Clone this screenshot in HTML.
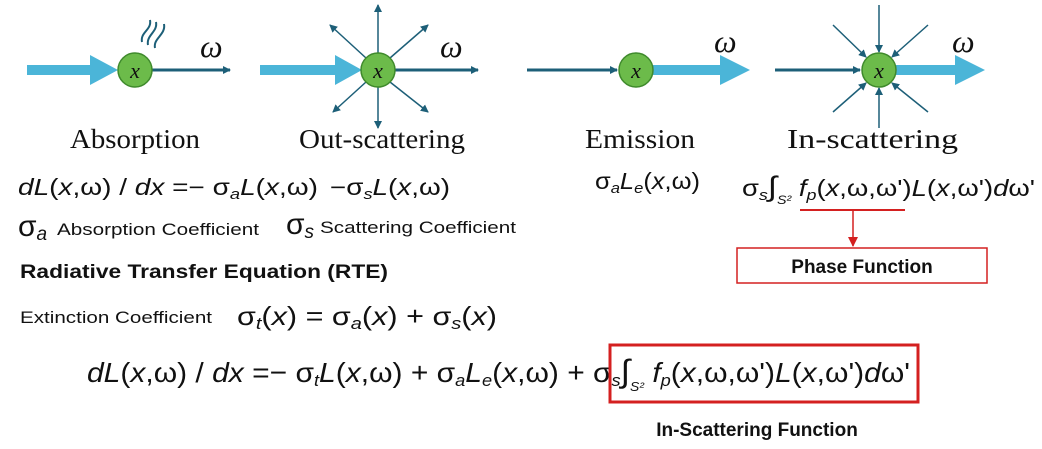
<!DOCTYPE html>
<html><head><meta charset="utf-8"><style>
html,body{margin:0;padding:0;background:#fff;width:1042px;height:449px;overflow:hidden}
svg text{font-family:"Liberation Sans",sans-serif;fill:#111}
.serif{font-family:"Liberation Serif",serif}
.it{font-style:italic}
</style></head><body>
<svg width="1042" height="449" viewBox="0 0 1042 449">
<defs>
<marker id="ah" markerWidth="8" markerHeight="8" refX="7" refY="4" orient="auto" markerUnits="userSpaceOnUse"><path d="M0,0 L8,4 L0,8 Z" fill="#1d5f78"/></marker>
<marker id="ar" markerWidth="10" markerHeight="10" refX="9" refY="5" orient="auto" markerUnits="userSpaceOnUse"><path d="M0,0 L10,5 L0,10 Z" fill="#d42020"/></marker>
</defs>
<g>
<path d="M27,65 L90,65 L90,55 L118,70 L90,85 L90,75 L27,75 Z" fill="#4bb5d8"/>
<line x1="152" y1="70" x2="230" y2="70" stroke="#1d5f78" stroke-width="3" marker-end="url(#ah)"/>
<circle cx="135" cy="70" r="17" fill="#6cbb4a" stroke="#3f8a2c" stroke-width="1.5"/>
<text x="135" y="78" text-anchor="middle" class="serif it" font-size="22" fill="#2d6a1e">x</text>
<path d="M142,42 C140,32 152,30 150,20 M148,45 C146,35 158,32 156,22 M155,48 C153,38 166,35 164,24" fill="none" stroke="#1d5f78" stroke-width="2"/>
<text x="200" y="57" class="serif it" font-size="32">ω</text>
</g>
<g>
<path d="M260,65 L335,65 L335,55 L362,70 L335,85 L335,75 L260,75 Z" fill="#4bb5d8"/>
<line x1="395" y1="70" x2="478" y2="70" stroke="#1d5f78" stroke-width="3" marker-end="url(#ah)"/>
<g stroke="#1d5f78" stroke-width="1.5" marker-end="url(#ah)">
<line x1="378" y1="53" x2="378" y2="5"/><line x1="378" y1="87" x2="378" y2="128"/>
<line x1="366" y1="58" x2="330" y2="25"/><line x1="390" y1="58" x2="428" y2="25"/>
<line x1="366" y1="82" x2="333" y2="112"/><line x1="390" y1="82" x2="428" y2="112"/>
</g>
<circle cx="378" cy="70" r="17" fill="#6cbb4a" stroke="#3f8a2c" stroke-width="1.5"/>
<text x="378" y="78" text-anchor="middle" class="serif it" font-size="22" fill="#2d6a1e">x</text>
<text x="440" y="57" class="serif it" font-size="32">ω</text>
</g>
<g>
<line x1="527" y1="70" x2="617" y2="70" stroke="#1d5f78" stroke-width="3" marker-end="url(#ah)"/>
<path d="M650,65 L720,65 L720,55 L750,70 L720,85 L720,75 L650,75 Z" fill="#4bb5d8"/>
<circle cx="636" cy="70" r="17" fill="#6cbb4a" stroke="#3f8a2c" stroke-width="1.5"/>
<text x="636" y="78" text-anchor="middle" class="serif it" font-size="22" fill="#2d6a1e">x</text>
<text x="714" y="52" class="serif it" font-size="32">ω</text>
</g>
<g>
<line x1="775" y1="70" x2="860" y2="70" stroke="#1d5f78" stroke-width="3" marker-end="url(#ah)"/>
<path d="M893,65 L955,65 L955,55 L985,70 L955,85 L955,75 L893,75 Z" fill="#4bb5d8"/>
<g stroke="#1d5f78" stroke-width="1.5" marker-end="url(#ah)">
<line x1="879" y1="5" x2="879" y2="52"/><line x1="879" y1="128" x2="879" y2="88"/>
<line x1="833" y1="25" x2="866" y2="57"/><line x1="928" y1="25" x2="892" y2="57"/>
<line x1="833" y1="112" x2="866" y2="83"/><line x1="928" y1="112" x2="892" y2="83"/>
</g>
<circle cx="879" cy="70" r="17" fill="#6cbb4a" stroke="#3f8a2c" stroke-width="1.5"/>
<text x="879" y="78" text-anchor="middle" class="serif it" font-size="22" fill="#2d6a1e">x</text>
<text x="952" y="52" class="serif it" font-size="32">ω</text>
</g>
<text x="70" y="148" class="serif" font-size="27" textLength="130" lengthAdjust="spacingAndGlyphs">Absorption</text>
<text x="299" y="148" class="serif" font-size="27" textLength="166" lengthAdjust="spacingAndGlyphs">Out-scattering</text>
<text x="585" y="148" class="serif" font-size="27" textLength="110" lengthAdjust="spacingAndGlyphs">Emission</text>
<text x="787" y="148" class="serif" font-size="27" textLength="171" lengthAdjust="spacingAndGlyphs">In-scattering</text>
<text x="18" y="195" font-size="23" textLength="300" lengthAdjust="spacingAndGlyphs"><tspan class="it">dL</tspan>(<tspan class="it">x</tspan>,ω) / <tspan class="it">dx</tspan> =− σ<tspan font-size="15" dy="4" class="it">a</tspan><tspan dy="-4" class="it">L</tspan>(<tspan class="it">x</tspan>,ω)</text>
<text x="330" y="195" font-size="23" textLength="120" lengthAdjust="spacingAndGlyphs">−σ<tspan font-size="15" dy="4" class="it">s</tspan><tspan dy="-4" class="it">L</tspan>(<tspan class="it">x</tspan>,ω)</text>
<text x="595" y="189" font-size="23" textLength="105" lengthAdjust="spacingAndGlyphs">σ<tspan font-size="15" dy="4" class="it">a</tspan><tspan dy="-4" class="it">L</tspan><tspan font-size="15" dy="4" class="it">e</tspan><tspan dy="-4">(</tspan><tspan class="it">x</tspan>,ω)</text>
<text x="742" y="196" font-size="23" textLength="293" lengthAdjust="spacingAndGlyphs">σ<tspan font-size="15" dy="4" class="it">s</tspan><tspan dy="-4" font-size="28">∫</tspan><tspan font-size="12" dy="8" class="it">S²</tspan><tspan dy="-8"> </tspan><tspan class="it">f</tspan><tspan font-size="15" dy="4" class="it">p</tspan><tspan dy="-4">(</tspan><tspan class="it">x</tspan>,ω,ω')<tspan class="it">L</tspan>(<tspan class="it">x</tspan>,ω')<tspan class="it">d</tspan>ω'</text>
<text x="18" y="236" font-size="30">σ<tspan font-size="19" dy="4" class="it">a</tspan></text>
<text x="57" y="235" font-size="17" textLength="202" lengthAdjust="spacingAndGlyphs">Absorption Coefficient</text>
<text x="286" y="234" font-size="30">σ<tspan font-size="19" dy="4" class="it">s</tspan></text>
<text x="320" y="233" font-size="17" textLength="196" lengthAdjust="spacingAndGlyphs">Scattering Coefficient</text>
<line x1="800" y1="210" x2="905" y2="210" stroke="#d42020" stroke-width="2"/>
<line x1="853" y1="210" x2="853" y2="246" stroke="#d42020" stroke-width="1.5" marker-end="url(#ar)"/>
<rect x="737" y="248" width="250" height="35" fill="none" stroke="#d42020" stroke-width="1.5"/>
<text x="862" y="273" text-anchor="middle" font-size="19" font-weight="bold">Phase Function</text>
<text x="20" y="278" font-size="19" font-weight="bold" textLength="368" lengthAdjust="spacingAndGlyphs">Radiative Transfer Equation (RTE)</text>
<text x="20" y="323" font-size="17" textLength="192" lengthAdjust="spacingAndGlyphs">Extinction Coefficient</text>
<text x="237" y="325" font-size="26" textLength="260" lengthAdjust="spacingAndGlyphs">σ<tspan font-size="17" dy="4" class="it">t</tspan><tspan dy="-4">(</tspan><tspan class="it">x</tspan>) = σ<tspan font-size="17" dy="4" class="it">a</tspan><tspan dy="-4">(</tspan><tspan class="it">x</tspan>) + σ<tspan font-size="17" dy="4" class="it">s</tspan><tspan dy="-4">(</tspan><tspan class="it">x</tspan>)</text>
<text x="87" y="382" font-size="28" textLength="823" lengthAdjust="spacingAndGlyphs"><tspan class="it">dL</tspan>(<tspan class="it">x</tspan>,ω) / <tspan class="it">dx</tspan> =− σ<tspan font-size="17" dy="4" class="it">t</tspan><tspan dy="-4" class="it">L</tspan>(<tspan class="it">x</tspan>,ω) + σ<tspan font-size="17" dy="4" class="it">a</tspan><tspan dy="-4" class="it">L</tspan><tspan font-size="17" dy="4" class="it">e</tspan><tspan dy="-4">(</tspan><tspan class="it">x</tspan>,ω) + σ<tspan font-size="17" dy="4" class="it">s</tspan><tspan dy="-4" font-size="32">∫</tspan><tspan font-size="13" dy="9" class="it">S²</tspan><tspan dy="-9"> </tspan><tspan class="it">f</tspan><tspan font-size="17" dy="4" class="it">p</tspan><tspan dy="-4">(</tspan><tspan class="it">x</tspan>,ω,ω')<tspan class="it">L</tspan>(<tspan class="it">x</tspan>,ω')<tspan class="it">d</tspan>ω'</text>
<rect x="610" y="345" width="308" height="57" fill="none" stroke="#d42020" stroke-width="3"/>
<text x="757" y="436" text-anchor="middle" font-size="19" font-weight="bold">In-Scattering Function</text>
</svg>
</body></html>
